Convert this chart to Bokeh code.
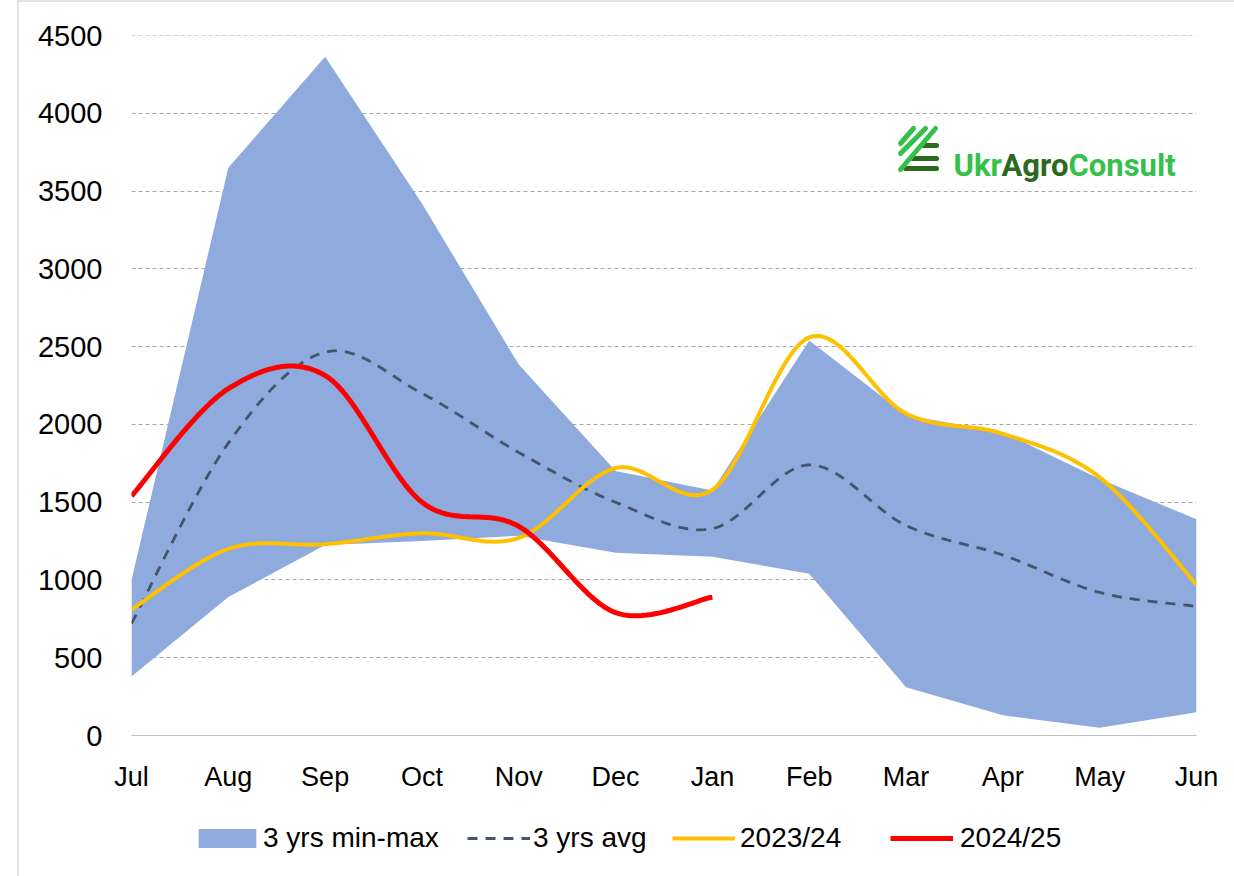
from bokeh.plotting import figure
from bokeh.layouts import column
from bokeh.models import Range1d, FixedTicker, Legend, LegendItem, Label
from bokeh.embed import file_html
from bokeh.resources import INLINE
import numpy as np

months = ["Jul","Aug","Sep","Oct","Nov","Dec","Jan","Feb","Mar","Apr","May","Jun"]
band_max = [1000,3650,4365,3420,2385,1700,1575,2540,2060,1950,1650,1390]
band_min = [380,890,1225,1250,1285,1175,1150,1040,310,130,50,150]
avg_3y   = [720,1880,2465,2200,1820,1500,1330,1740,1350,1160,920,830]
y2023_24 = [810,1200,1230,1300,1270,1720,1580,2560,2070,1940,1660,970]
y2024_25 = [1540,2230,2315,1500,1345,790,890]
y_ticks  = [0,500,1000,1500,2000,2500,3000,3500,4000,4500]
legend_labels = ["3 yrs min-max", "3 yrs avg", "2023/24", "2024/25"]

OX, OY = 19, 2                    # where the layout sits on the page
SPLIT = 800                       # page y where the legend strip starts
W = 1234 - OX
L, R, T, B = 131, 1196, 35, 735   # frame edges in page pixels
YMAX = 4501                       # a hair above 4500, so the top gridline is drawn
FONT = "Liberation Sans"
C_BAND, C_AVG, C_23, C_24 = "#8faadc", "#44546a", "#ffc000", "#ff0000"

def smooth(ys, n=24):
    """Catmull-Rom curve through the monthly values, as a spreadsheet's smoothed line draws it."""
    ys = np.asarray(ys, float)
    P = np.column_stack([np.arange(len(ys), dtype=float), ys])
    P = np.vstack([P[0], P, P[-1]])
    out = []
    for i in range(1, len(P) - 2):
        a, b, c, d = P[i-1], P[i], P[i+1], P[i+2]
        for t in np.linspace(0, 1, n, endpoint=False):
            out.append(b + t * (c - a) / 2 + t*t * (a - 2.5*b + 2*c - 0.5*d) + t**3 * (-0.5*a + 1.5*b - 1.5*c + 0.5*d))
    out.append(P[-2])
    out = np.array(out)
    return out[:, 0], out[:, 1]

p = figure(width=W, height=SPLIT - OY, output_backend="svg", toolbar_location=None,
           x_range=Range1d(0, 11), y_range=Range1d(0, YMAX),
           min_border_left=L-OX, min_border_right=1234-R, min_border_top=T-OY, min_border_bottom=SPLIT-B)
p.outline_line_color = None
p.xgrid.visible = False
p.ygrid.ticker = FixedTicker(ticks=y_ticks)
p.ygrid.grid_line_color = "#a6a6a6"
p.ygrid.grid_line_dash = "4 3"
p.ygrid.grid_line_width = 1

p.xaxis.ticker = FixedTicker(ticks=list(range(12)))
p.xaxis.major_label_overrides = {i: m for i, m in enumerate(months)}
p.xaxis.major_label_text_font = FONT
p.xaxis.major_label_text_font_size = "27px"
p.xaxis.major_label_text_color = "#000000"
p.xaxis.major_label_standoff = 20
p.xaxis.major_tick_line_color = None
p.xaxis.minor_tick_line_color = None
p.xaxis.axis_line_color = "#bfbfbf"

p.yaxis.ticker = FixedTicker(ticks=y_ticks)
p.yaxis.major_label_text_font = FONT
p.yaxis.major_label_text_font_size = "29px"
p.yaxis.major_label_text_color = "#000000"
p.yaxis.major_label_standoff = 23
p.yaxis.major_tick_line_color = None
p.yaxis.minor_tick_line_color = None
p.yaxis.axis_line_color = None

xs = list(range(12))
p.varea(xs, band_min, band_max, fill_color=C_BAND)
xa, ya = smooth(avg_3y)
p.line(xa, ya, line_color=C_AVG, line_width=2.8, line_dash="10 8")
x1, y1 = smooth(y2023_24)
p.line(x1, y1, line_color=C_23, line_width=4)
x2, y2 = smooth(y2024_25)
p.line(x2, y2, line_color=C_24, line_width=5)

# logo, positioned in page pixels
def dx(px): return (px - L) / (R - L) * 11
def dy(py): return (B - py) / (B - T) * YMAX
GREEN, DARK = "#35c04a", "#2b6a1e"
p.multi_line([[dx(923),dx(936)],[dx(912),dx(936)],[dx(905),dx(936)]],
             [[dy(145),dy(145)],[dy(158),dy(158)],[dy(168),dy(168)]],
             line_color=DARK, line_width=5, line_cap="round")
p.multi_line([[dx(900),dx(913)],[dx(900),dx(925)],[dx(900),dx(935)]],
             [[dy(143),dy(128)],[dy(153),dy(128)],[dy(169),dy(128)]],
             line_color=GREEN, line_width=5, line_cap="round")
for txt, px, col in [("Ukr", 953, GREEN), ("Agro", 1001, DARK), ("Consult", 1068, GREEN)]:
    p.add_layout(Label(x=dx(px), y=dy(165), text=txt, text_color=col, text_font="Roboto",
                       text_font_style="bold", text_font_size="31px", text_baseline="alphabetic"))

# legend strip: its own figure, so each key can sit exactly where the reference has it.
# The keys' data lie outside this strip's range, so only the legend shows.
q = figure(width=W, height=876 - SPLIT, output_backend="svg", toolbar_location=None,
           x_range=Range1d(0, 1), y_range=Range1d(0, 1),
           min_border_left=L-OX, min_border_right=1234-R, min_border_top=0, min_border_bottom=0)
q.axis.visible = False
q.grid.visible = False
q.outline_line_color = None
keys = [q.varea(xs, band_min, band_max, fill_color=C_BAND),
        q.line(xs, avg_3y, line_color=C_AVG, line_width=2.8, line_dash="10 8"),
        q.line(xs, y2023_24, line_color=C_23, line_width=4),
        q.line(list(range(7)), y2024_25, line_color=C_24, line_width=5)]
key_layout = [(191, 72, 24, 0), (467, 63, 20, 3), (672, 63, 20, 5), (890, 63, 20, 7)]  # x, key w, key h, gap
for label, key, (px, gw, gh, gap) in zip(legend_labels, keys, key_layout):
    q.add_layout(Legend(items=[LegendItem(label=label, renderers=[key])],
                        orientation="horizontal", location=(px - L, 22),
                        background_fill_alpha=0, border_line_color=None,
                        glyph_width=gw, glyph_height=gh, label_standoff=gap, padding=0, margin=0,
                        label_text_font=FONT, label_text_font_size="28px", label_text_color="#000000"))

page = column(p, q, spacing=0, margin=(OY, 0, 0, OX),
              styles={"outline": "2px solid #e2e2e2", "clip-path": "inset(-2px 0 0 -2px)"})
open("out.html", "w").write(file_html(page, INLINE))
